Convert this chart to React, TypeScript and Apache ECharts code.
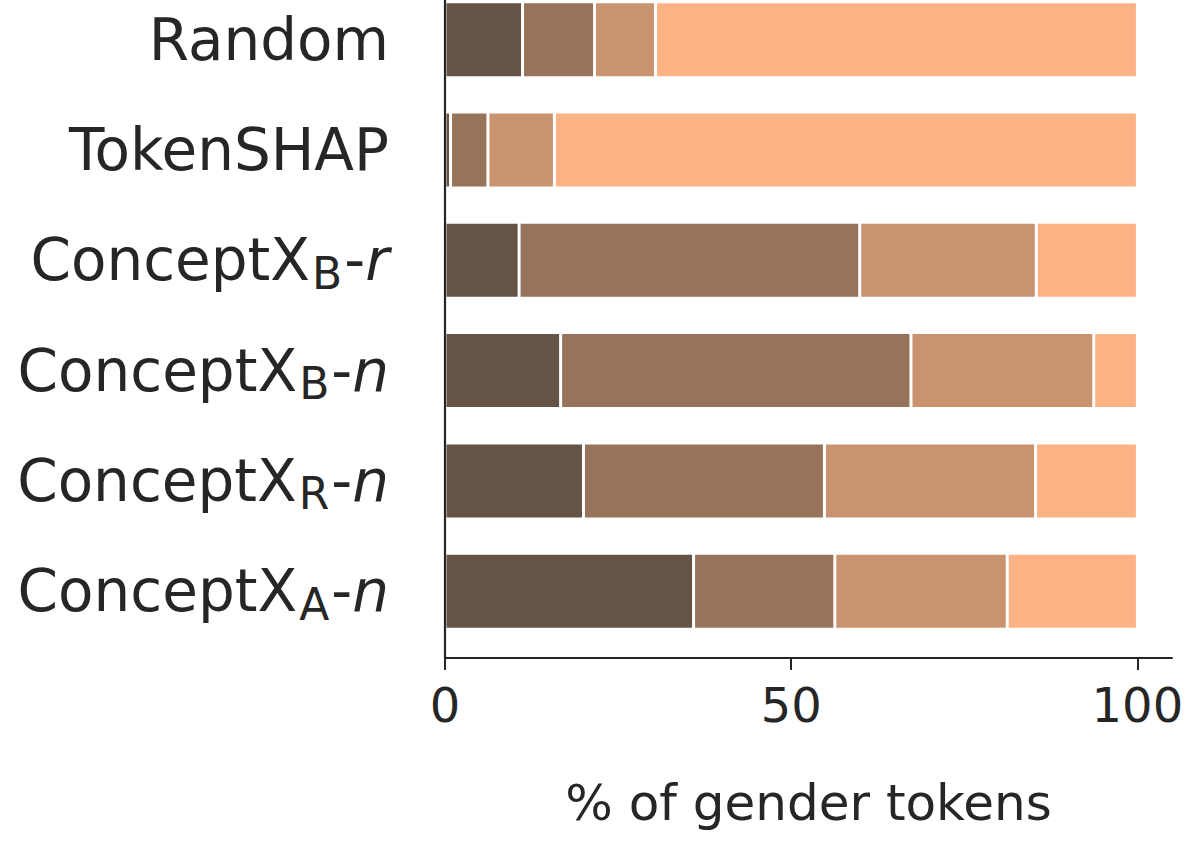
import React, { useEffect, useRef } from "react";
import * as echarts from "echarts";

const categories = ["Random", "TokenSHAP", "ConceptX_B-r", "ConceptX_B-n", "ConceptX_R-n", "ConceptX_A-n"];
const seriesNames = ["Tier 1", "Tier 2", "Tier 3", "Tier 4"];
const tier1 = [11.2, 0.8, 10.7, 16.7, 20.0, 35.9];
const tier2 = [10.4, 5.4, 49.2, 50.6, 34.8, 20.4];
const tier3 = [8.8, 9.6, 25.5, 26.4, 30.5, 24.9];
const tier4 = [69.6, 84.2, 14.6, 6.3, 14.7, 18.8];
const xTicks = [0, 50, 100];
const xAxisName = "% of gender tokens";
const colors = ["#655346", "#97735B", "#C9936F", "#FBB285"];

const INK = "#262626";
const FONT = "DejaVu Sans";
const SHIFT = 16; // chart div is shifted up so the top band can start above the page

function richLabel(cat: string): string {
  const m = cat.match(/^(.*)_(.)-(.)$/);
  if (!m) return `{m|${cat}}`;
  return `{m|${m[1]}}{s|${m[2]}}{m|-}{i|${m[3]}}`;
}

export default function App() {
  const ref = useRef<HTMLDivElement>(null);
  useEffect(() => {
    document.body.style.margin = "0";
    const chart = echarts.init(ref.current!, undefined, { renderer: "svg" });
    const gridLeft = 445;
    const gridTop = SHIFT - 15.45;
    const gridHeight = 661.8;
    const xAxisY = 658 + SHIFT;
    const data = [tier1, tier2, tier3, tier4];
    chart.setOption({
      animation: false,
      backgroundColor: "#ffffff",
      textStyle: { fontFamily: FONT },
      grid: { left: gridLeft, right: 24, top: gridTop, height: gridHeight },
      xAxis: {
        type: "value",
        min: 0,
        max: 105,
        interval: 50,
        offset: xAxisY - (gridTop + gridHeight),
        splitLine: { show: false },
        axisLine: { show: true, lineStyle: { color: INK, width: 2 } },
        axisTick: {
          show: true,
          length: 12,
          lineStyle: { color: INK, width: 2 },
          customValues: xTicks,
        },
        axisLabel: {
          customValues: xTicks,
          fontSize: 48,
          color: INK,
          fontFamily: FONT,
          margin: 23,
        },
        name: xAxisName,
        nameLocation: "middle",
        nameGap: 120,
        nameTextStyle: { fontSize: 50, color: INK, fontFamily: FONT },
      },
      yAxis: {
        type: "category",
        data: categories,
        inverse: true,
        axisLine: { show: false },
        axisTick: { show: false },
        splitLine: { show: false },
        axisLabel: {
          margin: 56,
          color: INK,
          formatter: (v: string) => richLabel(v),
          rich: {
            m: { fontSize: 58, lineHeight: 70, color: INK, fontFamily: FONT, verticalAlign: "middle" },
            s: { fontSize: 44, lineHeight: 36, color: INK, fontFamily: FONT, verticalAlign: "bottom", padding: [0, 2, 0, 2] },
            i: { fontSize: 58, lineHeight: 70, color: INK, fontFamily: FONT, fontStyle: "italic", verticalAlign: "middle" },
          },
        },
      },
      graphic: [
        {
          type: "line",
          shape: { x1: gridLeft, y1: SHIFT, x2: gridLeft, y2: xAxisY },
          style: { stroke: INK, lineWidth: 2.2 },
          z: 100,
        },
      ],
      series: data.map((d, i) => ({
        name: seriesNames[i],
        type: "bar",
        stack: "total",
        barWidth: 76,
        data: d,
        itemStyle: { color: colors[i], borderColor: "#ffffff", borderWidth: 1.5 },
      })),
    });
    return () => chart.dispose();
  }, []);
  return (
    <div
      ref={ref}
      style={{ position: "absolute", left: 0, top: -SHIFT, width: 1196, height: 845 + SHIFT }}
    />
  );
}
